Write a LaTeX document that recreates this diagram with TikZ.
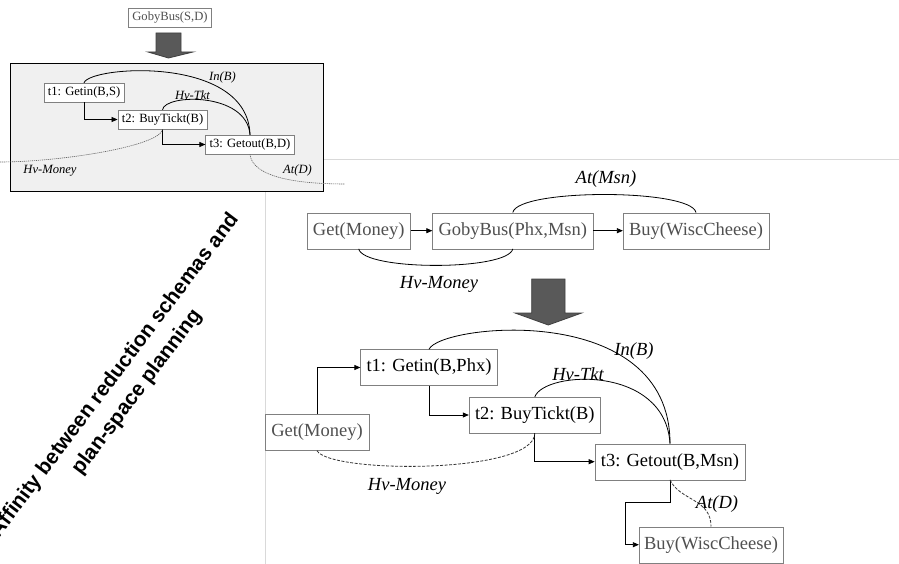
\documentclass[tikz,border=0pt]{standalone}
\usepackage{fontspec}
\setmainfont{Liberation Serif}
\setsansfont{Liberation Sans}
\usetikzlibrary{arrows.meta,calc}
\definecolor{boxline}{HTML}{808080}
\definecolor{boxtext}{HTML}{505050}
\definecolor{panel}{HTML}{F0F0F0}
\definecolor{rule}{HTML}{D9D9D9}
\definecolor{arrowfill}{HTML}{595959}
\tikzset{
  opbox/.style={draw=boxline,fill=white,inner xsep=6pt,inner ysep=0pt,minimum height=36pt,
    font=\fontsize{18.5}{20}\selectfont},
  greybox/.style={opbox,text=boxtext},
  smallbox/.style={draw=boxline,fill=white,inner xsep=4pt,inner ysep=0pt,minimum height=19pt,
    font=\fontsize{12.6}{14}\selectfont},
  lbl/.style={font=\fontsize{18.5}{20}\selectfont\itshape,inner sep=0pt},
  smalllbl/.style={font=\fontsize{12.6}{14}\selectfont\itshape,inner sep=0pt},
  link/.style={black,line width=0.8pt},
  dashlink/.style={black!80,line width=0.8pt,dash pattern=on 3pt off 1.5pt},
  dotlink/.style={black!60,line width=0.6pt,dash pattern=on 1.2pt off 0.8pt},
  bigarrow/.style={fill=arrowfill,draw=black!75,line width=0.8pt}
}
\begin{document}
\begin{tikzpicture}[x=1pt,y=-1pt,>={Triangle[length=6pt,width=5pt]}]
  \useasboundingbox[fill=white] (0,0) rectangle (899,564);
  % separating rules
  \draw[rule,line width=1pt] (265,160) -- (899,160);
  \draw[rule,line width=1pt] (265,160) -- (265,564);

  % ---- small reduction schema (top left)
  \node[smallbox,text=boxtext] (gbs) at (170,17.5) {GobyBus(S,D)};
  \draw[bigarrow] (156,33) -- (181,33) -- (181,52) -- (193,52) -- (168.5,58)
    -- (148,52) -- (156,52) -- cycle;
  \draw[fill=panel,line width=1pt] (10.7,64) rectangle (323,192);
  \node[smallbox] (s1) at (84,92.5) {t1: Getin(B,S)};
  \node[smallbox] (s2) at (162.5,119.5) {t2: BuyTickt(B)};
  \node[smallbox] (s3) at (250,144.5) {t3: Getout(B,D)};
  \coordinate (smoney) at (0,162);
  \coordinate (sat) at (345,184);
  \draw[link,->] (s1.south) |- (s2.west);
  \draw[link,->] (s2.south) |- (s3.west);
  \draw[link] (s1.north) .. controls +(6,-17) and +(-2,-80) .. (s3.north);
  \draw[link] (s2.north) .. controls +(2,-16) and +(-3,-43) .. (s3.north);
  \draw[dotlink] (s2.south) .. controls +(-2,17) and +(60,0) .. (smoney);
  \draw[dotlink] (s3.south) .. controls +(2,21) and +(-55,0) .. (sat);
  \node[smalllbl] (sInB) at (222.5,77.5) {In(B)};
  \node[smalllbl] (sTkt) at (192.5,95) {Hv-Tkt};
  \node[smalllbl] (sMoney) at (50,170.5) {Hv-Money};
  \node[smalllbl] (sAtD) at (297.5,170.5) {At(D)};

  % ---- rotated caption
  \node[rotate=53,align=center,inner sep=0pt,
    font=\sffamily\bfseries\fontsize{20.8}{28}\selectfont] (caption) at (126,384)
    {Affinity between reduction schemas and\\plan-space planning};

  % ---- abstract plan
  \node[greybox] (gm1) at (358.7,230.7) {Get(Money)};
  \node[greybox] (gb) at (512.8,230.7) {GobyBus(Phx,Msn)};
  \node[greybox] (bw1) at (696,230.7) {Buy(WiscCheese)};
  \draw[link,->] (gm1) -- (gb);
  \draw[link,->] (gb) -- (bw1);
  \draw[link] (gb.north) .. controls +(5,-24) and +(-5,-24) .. (bw1.north);
  \draw[link] (gm1.south) .. controls +(5,22) and +(-5,22) .. (gb.south);
  \node[lbl] (atMsn) at (606,179) {At(Msn)};
  \node[lbl] (money1) at (439,284) {Hv-Money};

  \draw[bigarrow] (531.7,279) -- (565,279) -- (565,313) -- (581.7,313) -- (548.3,325)
    -- (515,313) -- (531.7,313) -- cycle;

  % ---- expanded plan
  \node[greybox] (gm2) at (317,432.5) {Get(Money)};
  \node[opbox] (t1) at (429,367.5) {t1: Getin(B,Phx)};
  \node[opbox] (t2) at (534.8,415) {t2: BuyTickt(B)};
  \node[opbox] (t3) at (670,461.7) {t3: Getout(B,Msn)};
  \node[greybox,inner xsep=5pt] (bw2) at (711,544.7) {Buy(WiscCheese)};
  \draw[link,->] (gm2.north) |- (t1.west);
  \draw[link,->] (t1.south) |- (t2.west);
  \draw[link,->] (t2.south) |- (t3.west);
  \draw[link,->] (t3.south) |- ($(bw2.west)+(-13.7,-42)$) |- (bw2.west);
  \draw[link] (t1.north) .. controls +(11,-25) and +(0,-144) .. (t3.north);
  \draw[link] (t2.north) .. controls +(10,-26) and +(-5,-79) .. (t3.north);
  \draw[dashlink] (gm2.south) .. controls +(13,23) and +(0,41) .. (t2.south);
  \draw[dashlink] (t3.south) .. controls +(10,21) and +(0,-28) .. (bw2.north);
  \node[lbl] (inB) at (634,351.5) {In(B)};
  \node[lbl] (tkt) at (578,374) {Hv-Tkt};
  \node[lbl] (money2) at (407,486) {Hv-Money};
  \node[lbl] (atD) at (717,504) {At(D)};
\end{tikzpicture}
\end{document}
